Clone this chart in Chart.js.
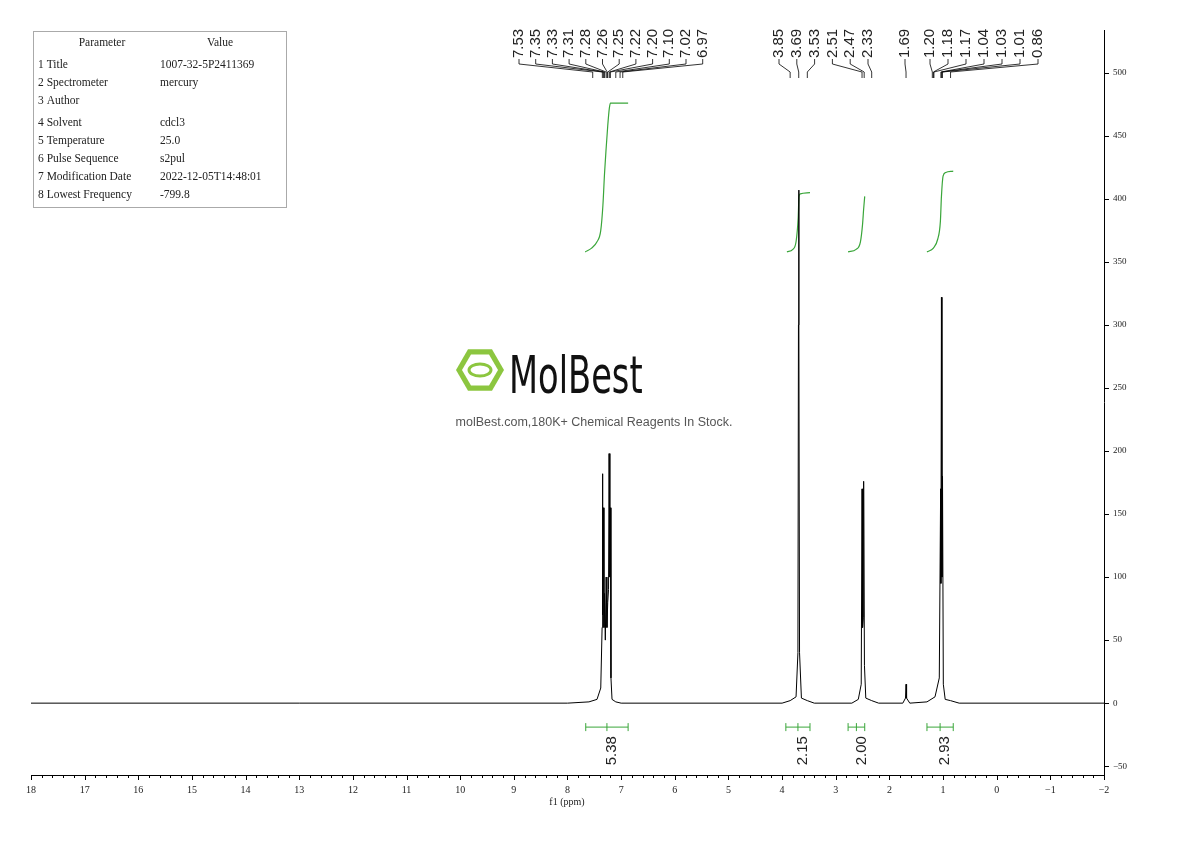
<!DOCTYPE html>
<html><head><meta charset="utf-8">
<script src="https://cdn.jsdelivr.net/npm/chart.js@4.4.0/dist/chart.umd.min.js"></script>
<style>html,body{margin:0;padding:0;background:#fff;overflow:hidden}#c{display:block}</style>
</head><body>
<canvas id="c" width="1190" height="841" style="width:1190px;height:841px"></canvas>
<script>
const xTicks=[18,17,16,15,14,13,12,11,10,9,8,7,6,5,4,3,2,1,0,-1,-2];
const yTicks=[-50,0,50,100,150,200,250,300,350,400,450,500];
const spectrum=[[18,0],[8.0,0],[7.6,1],[7.45,3],[7.38,12],[7.355,60],[7.35,182],[7.34,70],[7.33,155],[7.32,60],[7.31,87],[7.295,50],[7.28,100],[7.265,60],[7.25,80],[7.235,90],[7.225,198],[7.21,100],[7.20,155],[7.19,20],[7.17,3],[7.1,1],[7.0,0],
[4.0,0],[3.85,2],[3.74,5],[3.705,40],[3.695,300],[3.69,407],[3.685,300],[3.675,40],[3.64,4],[3.53,2],[3.4,0],
[2.7,0],[2.58,3],[2.525,15],[2.51,170],[2.50,60],[2.485,68],[2.48,176],[2.465,30],[2.44,4],[2.33,2],[2.2,0],
[1.75,0],[1.70,4],[1.69,15],[1.68,4],[1.62,0],
[1.30,1],[1.15,5],[1.07,20],[1.045,170],[1.04,95],[1.03,322],[1.02,100],[1.01,180],[0.995,15],[0.96,3],[0.86,2],[0.7,0],[-2,0]];
const integ1=[[7.67,358],[7.55,361],[7.45,366],[7.38,375],[7.34,395],[7.31,420],[7.28,440],[7.25,458],[7.22,472],[7.20,476],[6.87,476]];
const integ2=[[3.91,358],[3.80,360],[3.74,366],[3.70,385],[3.685,402],[3.66,404],[3.48,405]];
const integ3=[[2.77,358],[2.62,360],[2.54,366],[2.50,380],[2.48,392],[2.46,402]];
const integ4=[[1.30,358],[1.18,361],[1.10,368],[1.05,382],[1.03,402],[1.00,418],[0.95,421],[0.81,422]];
const integrals=[{from:7.66,to:6.87,label:"5.38"},{from:3.93,to:3.48,label:"2.15"},{from:2.77,to:2.46,label:"2.00"},{from:1.30,to:0.81,label:"2.93"}];
const peakGroups=[
 {labels:["7.53","7.35","7.33","7.31","7.28","7.26","7.25","7.22","7.20","7.10","7.02","6.97"],start:519,step:16.7},
 {labels:["3.85","3.69","3.53","2.51","2.47","2.33"],start:779,step:17.8},
 {labels:["1.69"],start:905,step:18},
 {labels:["1.20","1.18","1.17","1.04","1.03","1.01","0.86"],start:930,step:18}];
const params=[["Parameter","Value"],["1 Title","1007-32-5P2411369"],["2 Spectrometer","mercury"],["3 Author",""],["4 Solvent","cdcl3"],["5 Temperature","25.0"],["6 Pulse Sequence","s2pul"],["7 Modification Date","2022-12-05T14:48:01"],["8 Lowest Frequency","-799.8"]];

const toXY=a=>a.map(p=>({x:p[0],y:p[1]}));
const green='#3aa63a', serif='"Liberation Serif","DejaVu Serif",serif';
const deco={id:'deco',afterDraw(ch){
 const c=ch.ctx,xs=ch.scales.x,ys=ch.scales.y,ca=ch.chartArea;
 c.save();
 c.strokeStyle='#000';c.lineWidth=1;
 c.beginPath();c.moveTo(ca.left,ca.bottom+0.5);c.lineTo(ca.right,ca.bottom+0.5);c.moveTo(ca.right+0.5,ca.top);c.lineTo(ca.right+0.5,ca.bottom);c.stroke();
 c.beginPath();
 for(let v=-2;v<=18.001;v+=0.2){const px=Math.round(xs.getPixelForValue(v))+0.5;const major=Math.abs(v-Math.round(v))<1e-6;c.moveTo(px,ca.bottom);c.lineTo(px,ca.bottom+(major?5:3));}
 for(const v of yTicks){const py=Math.round(ys.getPixelForValue(v))+0.5;c.moveTo(ca.right,py);c.lineTo(ca.right+5,py);}
 c.stroke();
 c.strokeStyle=green;c.fillStyle='#222';
 for(const it of integrals){const a=xs.getPixelForValue(it.from),b=xs.getPixelForValue(it.to),y=ys.getPixelForValue(-19);
  c.beginPath();c.moveTo(a,y);c.lineTo(b,y);c.moveTo(a,y-4);c.lineTo(a,y+4);c.moveTo(b,y-4);c.lineTo(b,y+4);
  const m=(a+b)/2;c.moveTo(m,y-4);c.lineTo(m,y+4);c.stroke();
  c.save();c.translate(m+6,y+9);c.rotate(-Math.PI/2);c.font='15px "Liberation Sans",Arial,sans-serif';c.textAlign='right';c.textBaseline='middle';c.fillText(it.label,0,-1);c.restore();}
 c.strokeStyle='#000';c.fillStyle='#222';c.lineWidth=0.8;
 for(const g of peakGroups){g.labels.forEach((l,i)=>{const lx=g.start+i*g.step;const px=xs.getPixelForValue(parseFloat(l));
  c.save();c.translate(lx,58);c.rotate(-Math.PI/2);c.font='15px "Liberation Sans",Arial,sans-serif';c.textAlign='left';c.textBaseline='middle';c.fillText(l,0,0);c.restore();
  c.beginPath();c.moveTo(lx,59);c.lineTo(lx,64);c.lineTo(px,72);c.lineTo(px,78);c.stroke();});}
 c.strokeStyle='#aaa';c.lineWidth=1;c.strokeRect(33.5,31.5,253,176);
 c.font='11.5px '+serif;c.fillStyle='#222';c.textBaseline='middle';
 const rowsY=[43,65,83,101,123,141,159,177,195];
 params.forEach((r,i)=>{if(i===0){c.textAlign='center';c.fillText(r[0],102,rowsY[i]);c.fillText(r[1],220,rowsY[i]);c.textAlign='left';}else{c.fillText(r[0],38,rowsY[i]);c.fillText(r[1],160,rowsY[i]);}});
 const hx=480,hy=370,R=24;c.fillStyle='#8cc63f';c.beginPath();
 for(let k=0;k<6;k++){const an=Math.PI/3*k;c.lineTo(hx+R*Math.cos(an),hy+R*Math.sin(an));}c.closePath();c.fill();
 c.fillStyle='#fff';c.beginPath();for(let k=0;k<6;k++){const an=Math.PI/3*k;c.lineTo(hx+(R-6)*Math.cos(an),hy+(R-6)*Math.sin(an));}c.closePath();c.fill();
 c.strokeStyle='#8cc63f';c.lineWidth=3;c.beginPath();c.ellipse(hx,hy,11,6,0,0,Math.PI*2);c.stroke();
 c.fillStyle='#111';c.font='52px "DejaVu Sans Condensed","Liberation Sans Narrow",sans-serif';c.textAlign='left';c.textBaseline='alphabetic';
 c.save();c.translate(509,393);c.scale(0.72,1);c.fillText('MolBest',0,0);c.restore();
 c.fillStyle='#555';c.font='12.5px "Liberation Sans",Arial,sans-serif';c.textAlign='center';c.fillText('molBest.com,180K+ Chemical Reagents In Stock.',594,426);
 c.fillStyle='#222';c.font='10px '+serif;c.fillText('f1 (ppm)',567,805);
 c.restore();
}};
new Chart(document.getElementById('c'),{type:'line',
 data:{datasets:[
  {data:toXY(spectrum),borderColor:'#000',borderWidth:1,pointRadius:0,tension:0},
  ...[integ1,integ2,integ3,integ4].map(d=>({data:toXY(d),borderColor:green,borderWidth:1.2,pointRadius:0,cubicInterpolationMode:'monotone'}))]},
 options:{responsive:false,animation:false,devicePixelRatio:1,
  layout:{padding:{left:31,top:30,right:0,bottom:0}},
  plugins:{legend:{display:false},tooltip:{enabled:false}},
  scales:{
   x:{type:'linear',reverse:true,min:-2,max:18,border:{display:false},grid:{display:false},
      afterBuildTicks:s=>{s.ticks=xTicks.map(v=>({value:v}));},afterFit:s=>{s.height=66;},
      ticks:{color:'#222',font:{family:serif,size:10},padding:1,maxRotation:0,autoSkip:false,callback:v=>v<0?'\u2212'+(-v):String(v)}},
   y:{type:'linear',position:'right',min:-57,max:534,border:{display:false},grid:{display:false},
      afterBuildTicks:s=>{s.ticks=yTicks.map(v=>({value:v}));},afterFit:s=>{s.width=86;},
      ticks:{color:'#222',font:{family:serif,size:9},padding:1,autoSkip:false,callback:v=>v<0?'\u2212'+(-v):String(v)}}
  }},
 plugins:[deco]});
</script></body></html>
